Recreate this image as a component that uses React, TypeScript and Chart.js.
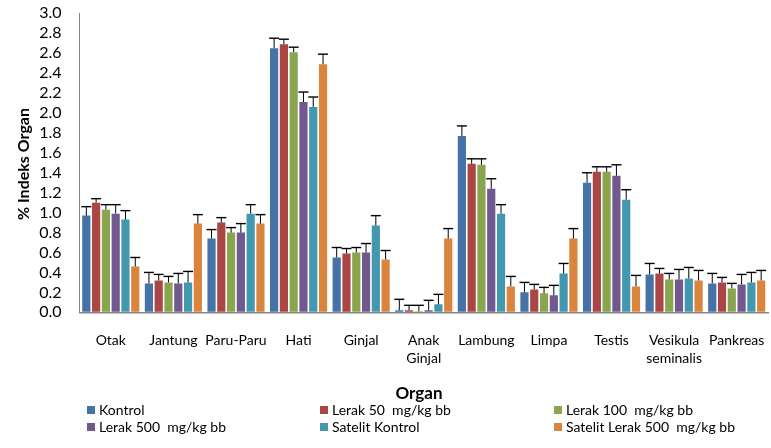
import React, { useEffect, useRef } from "react";
import { Chart, registerables } from "chart.js";
Chart.register(...registerables);

const categories: (string | string[])[] = [
  "Otak", "Jantung", "Paru-Paru", "Hati", "Ginjal", ["Anak", "Ginjal"],
  "Lambung", "Limpa", "Testis", ["Vesikula", "seminalis"], "Pankreas",
];

const seriesNames = [
  "Kontrol", "Lerak 50  mg/kg bb", "Lerak 100  mg/kg bb",
  "Lerak 500  mg/kg bb", "Satelit Kontrol", "Satelit Lerak 500  mg/kg bb",
];

const seriesColors = ["#4572A7", "#AA4643", "#89A54E", "#71588F", "#4198AF", "#DB843D"];

const kontrol = [0.97, 0.29, 0.74, 2.65, 0.55, 0.02, 1.77, 0.20, 1.30, 0.38, 0.29];
const lerak50 = [1.10, 0.32, 0.90, 2.69, 0.59, 0.02, 1.49, 0.23, 1.41, 0.39, 0.30];
const lerak100 = [1.03, 0.30, 0.80, 2.61, 0.60, 0.01, 1.48, 0.19, 1.41, 0.33, 0.24];
const lerak500 = [0.99, 0.29, 0.80, 2.11, 0.60, 0.02, 1.24, 0.17, 1.37, 0.33, 0.28];
const satelitKontrol = [0.93, 0.30, 0.99, 2.06, 0.87, 0.08, 0.99, 0.39, 1.13, 0.34, 0.30];
const satelitLerak = [0.46, 0.89, 0.89, 2.49, 0.53, 0.74, 0.26, 0.74, 0.26, 0.32, 0.32];

const sdKontrol = [0.09, 0.11, 0.09, 0.10, 0.10, 0.11, 0.10, 0.10, 0.10, 0.11, 0.10];
const sdLerak50 = [0.04, 0.06, 0.05, 0.05, 0.05, 0.05, 0.05, 0.05, 0.05, 0.05, 0.05];
const sdLerak100 = [0.05, 0.06, 0.05, 0.05, 0.05, 0.06, 0.06, 0.06, 0.05, 0.06, 0.05];
const sdLerak500 = [0.09, 0.10, 0.09, 0.10, 0.09, 0.10, 0.10, 0.10, 0.11, 0.10, 0.10];
const sdSatelitKontrol = [0.09, 0.11, 0.09, 0.10, 0.10, 0.10, 0.09, 0.10, 0.10, 0.11, 0.10];
const sdSatelitLerak = [0.09, 0.09, 0.09, 0.10, 0.09, 0.10, 0.10, 0.10, 0.11, 0.10, 0.10];

const seriesValues = [kontrol, lerak50, lerak100, lerak500, satelitKontrol, satelitLerak];
const seriesSd = [sdKontrol, sdLerak50, sdLerak100, sdLerak500, sdSatelitKontrol, sdSatelitLerak];

const yTitle = "% Indeks Organ";
const xTitle = "Organ";
const FONT = "Lato, 'Open Sans', sans-serif";

const errorBarPlugin = {
  id: "errorBars",
  afterDatasetsDraw(chart: any) {
    const ctx = chart.ctx;
    const yScale = chart.scales.y;
    ctx.save();
    chart.data.datasets.forEach((ds: any, di: number) => {
      const meta = chart.getDatasetMeta(di);
      meta.data.forEach((bar: any, i: number) => {
        const top = yScale.getPixelForValue(ds.data[i] + ds.sd[i]);
        ctx.strokeStyle = "#000";
        ctx.lineWidth = 1;
        ctx.beginPath();
        ctx.moveTo(bar.x, bar.y);
        ctx.lineTo(bar.x, top);
        ctx.stroke();
        ctx.lineWidth = 1.4;
        ctx.beginPath();
        ctx.moveTo(bar.x - 5, top);
        ctx.lineTo(bar.x + 5, top);
        ctx.stroke();
      });
    });
    ctx.restore();
  },
};

const decorPlugin = {
  id: "decor",
  afterDraw(chart: any) {
    const ctx = chart.ctx;
    ctx.save();
    ctx.fillStyle = "#000";
    ctx.font = `bold 16px ${FONT}`;
    ctx.textAlign = "center";
    ctx.textBaseline = "middle";
    ctx.save();
    ctx.translate(24, 164);
    ctx.rotate(-Math.PI / 2);
    ctx.fillText(yTitle, 0, 0);
    ctx.restore();
    ctx.font = `bold 17px ${FONT}`;
    ctx.fillText(xTitle, 419, 394);
    const colX = [87, 320, 554];
    const rowY = [410, 427];
    ctx.font = `14px ${FONT}`;
    ctx.textAlign = "left";
    chart.data.datasets.forEach((ds: any, i: number) => {
      const x = colX[i % 3];
      const y = rowY[Math.floor(i / 3)];
      ctx.fillStyle = ds.backgroundColor;
      ctx.fillRect(x, y - 4, 8, 8);
      ctx.fillStyle = "#000";
      ctx.fillText(ds.label, x + 12, y);
    });
    ctx.restore();
  },
};

export default function App() {
  const ref = useRef<HTMLCanvasElement>(null);
  useEffect(() => {
    document.body.style.margin = "0";
    const chart = new Chart(ref.current!, {
      type: "bar",
      data: {
        labels: categories,
        datasets: seriesNames.map((name, i) => ({
          label: name,
          data: seriesValues[i],
          sd: seriesSd[i],
          backgroundColor: seriesColors[i],
          borderWidth: 0,
          categoryPercentage: 0.938,
          barPercentage: 0.837,
        })) as any,
      },
      options: {
        animation: false,
        responsive: true,
        maintainAspectRatio: false,
        layout: { padding: { top: 13.3, right: 3, bottom: 0, left: 0 } },
        plugins: {
          legend: { display: false },
          tooltip: { enabled: false },
          title: { display: false },
        },
        scales: {
          x: {
            grid: { display: true, drawOnChartArea: false, drawTicks: false },
            border: { display: true, color: "#868686", width: 1.5 },
            ticks: {
              font: { family: FONT, size: 14, lineHeight: 1.3 },
              color: "#000",
              padding: 18.6,
              maxRotation: 0,
              autoSkip: false,
            },
            afterFit: (s: any) => {
              s.height = 448 - 312.3;
              s.paddingLeft = 0;
              s.paddingRight = 0;
            },
          },
          y: {
            min: 0,
            max: 3,
            grid: { display: true, drawOnChartArea: false, drawTicks: false },
            border: { display: true, color: "#868686", width: 1 },
            ticks: {
              stepSize: 0.2,
              autoSkip: false,
              callback: (v: any) => Number(v).toFixed(1),
              font: { family: FONT, size: 16, lineHeight: 1 },
              color: "#000",
              padding: 18,
            },
            afterFit: (s: any) => {
              s.width = 79.5;
              s.paddingTop = 0;
              s.paddingBottom = 0;
            },
          },
        },
      },
      plugins: [errorBarPlugin, decorPlugin],
    });
    return () => chart.destroy();
  }, []);
  return (
    <div style={{ position: "absolute", left: 0, top: 0, width: 771, height: 448 }}>
      <canvas ref={ref} />
    </div>
  );
}
